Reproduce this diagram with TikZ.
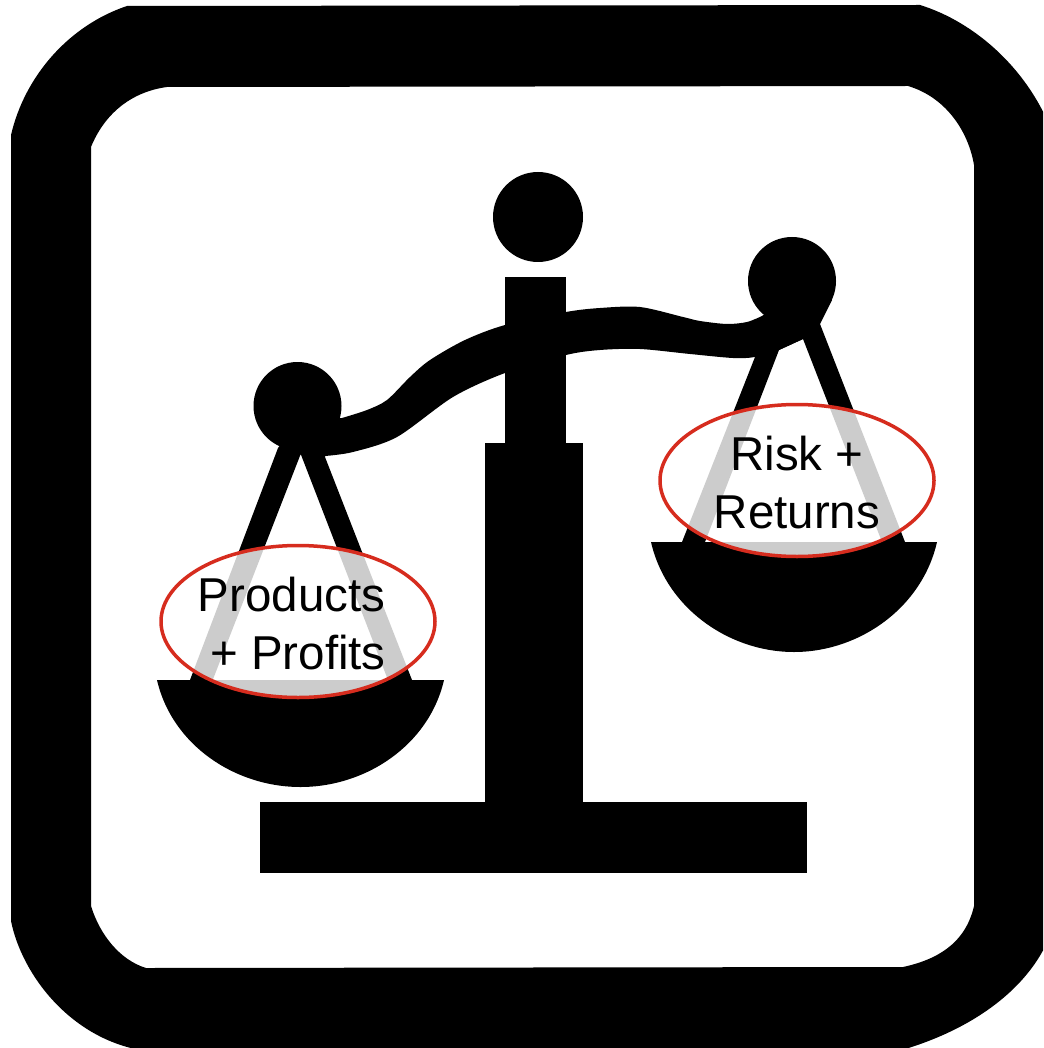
\documentclass[tikz,border=0pt]{standalone}
\usepackage{fontspec}
\setmainfont{Liberation Sans}
\definecolor{ringred}{RGB}{214,44,30}
\tikzset{
  ink/.style={fill=black,draw=none},
  weighring/.style={
    ellipse,
    draw=ringred,
    line width=3.5pt,
    fill=white,
    fill opacity=0.8,
    inner sep=0pt,
    minimum width=274pt,
    minimum height=152pt
  },
  weightext/.style={
    inner sep=0pt,
    align=center,
    font=\fontsize{47.5}{58}\selectfont
  }
}
\usetikzlibrary{shapes.geometric}
\begin{document}
\begin{tikzpicture}[x=1pt,y=-1pt]
      \useasboundingbox (0,0) rectangle (1043,1048);
      \clip (0,0) rectangle (1043,1048);

      % Rounded frame
      \fill[ink,even odd rule]
        (11,135) .. controls (25,75) and (70,25) .. (127,6)
        -- (920,5) .. controls (975,22) and (1030,70) .. (1054,137)
        -- (1054,925) .. controls (1035,985) and (975,1030) .. (895,1052)
        -- (140,1050) .. controls (70,1037) and (22,975) .. (11,921) -- cycle
        (91,147) .. controls (104,115) and (130,92) .. (167,87)
        -- (908,86) .. controls (945,97) and (968,130) .. (974,165)
        -- (974,906) .. controls (965,945) and (935,960) .. (903,967)
        -- (146,968) .. controls (120,960) and (100,935) .. (91,906) -- cycle;

      % Stand
      \fill[ink] (260,802) rectangle (807,873);
      \fill[ink] (485,443) rectangle (583,802);
      \fill[ink] (505,277) rectangle (566,443);
      \fill[ink] (538,217) circle [radius=45pt];

      % Beam and end balls
      \fill[ink] plot[smooth] coordinates
        {(342,418) (367,410) (387,400) (410,377) (430,360) (465,340) (505,325) (566,312) (600,308) (640,307) (683,317) (700,321) (727,324) (747,322) (762,316)}
        -- (800,290) -- (820,324) -- (803,339)
        -- plot[smooth] coordinates
        {(779,350) (755,357) (733,358) (690,354) (640,349) (600,350) (566,355) (505,373) (453,397) (397,437) (353,452) (325,456)}
        -- (300,420) -- cycle;
      \fill[ink] (297.5,406) circle [radius=44pt];
      \fill[ink] (792,281) circle [radius=44pt];

      % Left pan with its strings
      \fill[ink] (278,448) -- (190,680) -- (212.7,680) -- (300.7,454) -- (388,680) -- (412,680) -- (325,457) -- (335,425) -- (300,420) -- cycle;
      \fill[ink] (157,680) .. controls (172,745) and (235,787) .. (300.5,787)
        .. controls (366,787) and (429,745) .. (444,680) -- cycle;

      % Right pan with its strings
      \fill[ink] (755,357) -- (682,542) -- (705,542) -- (779,350) -- (803,339) -- (882,542) -- (905,542) -- (820,324) -- (832,300) -- (800,290) -- cycle;
      \fill[ink] (651,542) .. controls (666,608) and (729,652) .. (794,652)
        .. controls (859,652) and (922,608) .. (937,542) -- cycle;

      % Labelled rings over the pans
      \node[weighring] (profitring) at (298,621.5) {};
      \node[weightext] (profittext) at ([yshift=-2pt]profitring.center) {Products\hspace*{13pt}\\+ Profits};
      \node[weighring] (riskring) at (797,480.5) {};
      \node[weightext] (risktext) at ([yshift=-2pt]riskring.center) {Risk +\\Returns};

    \end{tikzpicture}
\end{document}
